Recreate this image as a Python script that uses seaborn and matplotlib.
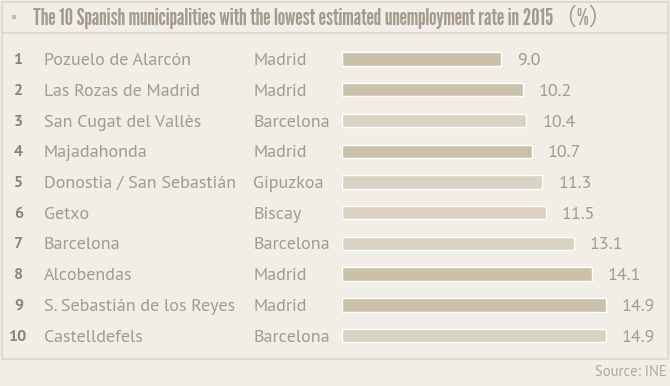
import pandas as pd
import seaborn as sns
import matplotlib.pyplot as plt
from matplotlib.patches import Rectangle
from matplotlib.lines import Line2D
from matplotlib import font_manager

# dados
ranks = ["1", "2", "3", "4", "5", "6", "7", "8", "9", "10"]
municipios = ["Pozuelo de Alarcón", "Las Rozas de Madrid", "San Cugat del Vallès",
              "Majadahonda", "Donostia / San Sebastián", "Getxo", "Barcelona",
              "Alcobendas", "S. Sebastián de los Reyes", "Castelldefels"]
provincias = ["Madrid", "Madrid", "Barcelona", "Madrid", "Gipuzkoa", "Biscay",
              "Barcelona", "Madrid", "Madrid", "Barcelona"]
taxas = [9.0, 10.2, 10.4, 10.7, 11.3, 11.5, 13.1, 14.1, 14.9, 14.9]

titulo = "The 10 Spanish municipalities with the lowest estimated unemployment rate in 2015（%）"
fonte = "Source: INE"

df = pd.DataFrame({"rank": ranks, "municipio": municipios,
                   "provincia": provincias, "taxa": taxas})

BG = "#f0eee6"
TXT = "#a59a8c"
NUM = "#8f8374"
LINE = "#dcd7cd"
paleta = {"Madrid": "#cac1a9", "Barcelona": "#dad3c3",
          "Gipuzkoa": "#dad3c3", "Biscay": "#dad3c3"}

disponiveis = {f.name for f in font_manager.fontManager.ttflist}
if "League Gothic" in disponiveis:
    fonte_titulo, tam_titulo = ["League Gothic", "Noto Sans CJK SC", "DejaVu Sans"], 17
else:
    fonte_titulo, tam_titulo = ["DejaVu Sans", "Noto Sans CJK SC"], 10
if "PT Sans" in disponiveis:
    corpo, tam, tam_num = "PT Sans", 13, 11.5
else:
    corpo, tam, tam_num = "Lato", 11, 10

sns.set_theme(style="white")
plt.rcParams["font.family"] = [corpo, "DejaVu Sans"]

W, H = 670, 386
fig = plt.figure(figsize=(W / 100, H / 100), dpi=100, facecolor=BG)

# eixo das barras: 0 em x=342px, 17.72 px por unidade
x0, x1 = 342, 668
y_top, y_bot = 43.7, 351.0
ax = fig.add_axes([x0 / W, 1 - y_bot / H, (x1 - x0) / W, (y_bot - y_top) / H])
ax.set_facecolor("none")
sns.barplot(data=df, y="rank", x="taxa", hue="provincia", palette=paleta,
            dodge=False, legend=False, width=0.435, orient="h", ax=ax,
            order=ranks, saturation=1)
ax.set_xlim(0, (x1 - x0) / 17.72)
ax.set_ylim(9.5, -0.5)
ax.axis("off")

desloc = -6  # baseline abaixo do centro da barra (px)
for i, v in enumerate(taxas):
    ax.annotate(f"{v:.1f}", (v, i), xytext=(16, desloc), textcoords="offset pixels",
                va="baseline", ha="left", fontsize=tam, color=TXT)

# colunas de texto
trans = ax.get_yaxis_transform()
for i, row in df.iterrows():
    ax.annotate(row["rank"], ((18.5 - x0) / (x1 - x0), i), xycoords=trans,
                xytext=(0, -5), textcoords="offset pixels", ha="center",
                va="baseline", fontsize=tam_num, fontweight="bold", color=NUM,
                annotation_clip=False)
    ax.annotate(row["municipio"], ((43.5 - x0) / (x1 - x0), i), xycoords=trans,
                xytext=(0, desloc), textcoords="offset pixels", ha="left",
                va="baseline", fontsize=tam, color=TXT, annotation_clip=False)
    ax.annotate(row["provincia"], ((253 - x0) / (x1 - x0), i), xycoords=trans,
                xytext=(0, desloc), textcoords="offset pixels", ha="left",
                va="baseline", fontsize=tam, color=TXT, annotation_clip=False)

# moldura e título
fig.patches.append(Rectangle((1.5 / W, 1 - 358.5 / H), 666 / W, 357 / H,
                             transform=fig.transFigure, fill=False,
                             edgecolor=LINE, linewidth=1.2))
fig.lines.append(Line2D([1.5 / W, 667.5 / W], [1 - 32.5 / H] * 2,
                        transform=fig.transFigure, color=LINE, linewidth=1.2))
fig.patches.append(Rectangle((12.5 / W, 1 - 19 / H), 4 / W, 4 / H,
                             transform=fig.transFigure, color="#c2b9ab", linewidth=0))
fig.text(33 / W, 1 - 25 / H, titulo, family=fonte_titulo,
         fontsize=tam_titulo, color=TXT, ha="left", va="baseline")
fig.text(667 / W, 1 - 376 / H, fonte, fontsize=10.5, color="#b0a89c",
         ha="right", va="baseline")

fig.savefig("out.png", dpi=100, facecolor=BG)
